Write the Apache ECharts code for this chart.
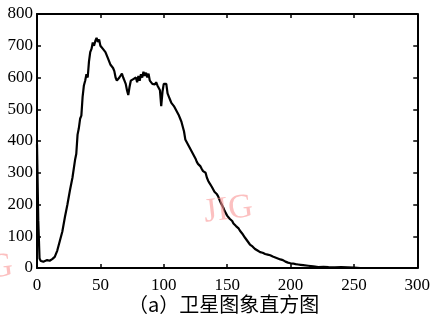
<!DOCTYPE html>
<html>
<head>
<meta charset="utf-8">
<script src="https://cdn.jsdelivr.net/npm/echarts@6/dist/echarts.min.js"></script>
<style>
  html, body { margin: 0; padding: 0; background: #fff; }
  #chart { width: 433px; height: 324px; }
</style>
</head>
<body>
<div id="chart"></div>
<script>
// grey level (x) and pixel count (y)
const greyLevels = [0,1,2,3,5,8,10,12,14,16,18,20,22,24,26,28,30,31,32,33,34,35,36,37,38,39,40,41,42,43,44,45,46,47,48,49,50,51,52,53,54,55,56,57,58,59,60,61,62,63,64,65,66,67,68,69,70,71,72,73,74,75,76,77,78,79,80,81,82,83,84,85,86,87,88,89,90,91,92,93,94,95,96,97,98,99,100,101,102,103,104,105,106,107,108,109,110,111,112,113,114,115,116,117,118,119,120,121,122,123,124,125,126,127,128,129,130,131,132,133,134,135,136,137,138,139,140,141,142,143,144,145,146,147,148,149,150,151,152,153,154,155,156,157,158,159,160,162,164,166,168,170,172,174,176,178,180,182,184,186,188,190,192,194,196,198,200,202,204,206,208,210,214,218,222,226,230,235,240,245,250,255]
const counts = [390,150,30,22,20,25,23,28,35,55,85,115,160,200,245,285,340,360,420,440,470,480,540,575,590,610,600,650,680,690,710,700,715,725,712,720,700,705,690,695,680,685,660,650,640,645,630,620,600,590,585,600,595,612,600,590,580,560,545,570,590,585,595,590,600,585,605,590,610,600,618,605,615,600,612,590,595,580,585,578,585,575,580,560,510,555,580,575,580,550,540,530,520,525,510,505,495,490,480,470,460,445,430,405,400,390,385,375,370,360,355,345,335,328,330,320,312,305,308,300,285,275,268,262,255,250,240,238,232,225,215,205,198,190,180,175,165,162,155,150,148,140,138,132,128,125,118,108,96,85,74,68,60,55,50,48,44,42,40,36,33,30,27,25,20,17,15,14,12,11,10,9,7,5,3,4,3,2,3,2,1,0]
const xTicks = [0,50,100,150,200,250,300]
const yTicks = [0,100,200,300,400,500,600,700,800]
const caption = '（a）卫星图象直方图'
const watermark = 'JIG'

const chart = echarts.init(document.getElementById('chart'))
const axisLine = {show:true, onZero:false, lineStyle:{color:'#000', width:2}}
const tickIn = {show:true, inside:true, length:4, lineStyle:{color:'#000', width:1.5}}
const labelStyle = {color:'#000', fontFamily:'Liberation Serif', fontSize:17}

chart.setOption({
    animation:false,
    backgroundColor:'#fff',
    textStyle:{fontFamily:'Liberation Serif'},
    grid:{left:37, right:13, top:14, bottom:56},
    xAxis:[
        {
            type:'value', min:xTicks[0], max:xTicks[xTicks.length-1], interval:50,
            axisLine:axisLine, axisTick:tickIn, splitLine:{show:false},
            axisLabel:Object.assign({margin:9}, labelStyle)
        },
        {
            type:'value', position:'top', min:0, max:300, interval:50,
            axisLine:axisLine, axisTick:tickIn, splitLine:{show:false},
            axisLabel:{show:false}
        }
    ],
    yAxis:[
        {
            type:'value', min:yTicks[0], max:yTicks[yTicks.length-1], interval:100,
            axisLine:axisLine, axisTick:tickIn, splitLine:{show:false},
            axisLabel:Object.assign({margin:4}, labelStyle)
        },
        {
            type:'value', position:'right', min:0, max:800, interval:100,
            axisLine:axisLine, axisTick:tickIn, splitLine:{show:false},
            axisLabel:{show:false}
        }
    ],
    series:[
        {
            type:'line',
            data:greyLevels.map((g,i)=>[g,counts[i]]),
            symbol:'none',
            lineStyle:{color:'#000', width:2.2},
            z:3
        }
    ],
    graphic:[
        {
            type:'text', x:128, y:294,
            style:{text:caption, fill:'#000', font:'20px "Noto Sans CJK SC"'}
        },
        {
            type:'text', x:202, y:196, rotation:0.12,
            style:{text:watermark, fill:'rgba(250,150,150,0.6)', font:'34px "Liberation Serif"'},
            z:10
        },
        {
            type:'text', x:-38, y:255, rotation:0.12,
            style:{text:watermark, fill:'rgba(250,150,150,0.6)', font:'34px "Liberation Serif"'},
            z:10
        }
    ]
})
</script>
</body>
</html>
